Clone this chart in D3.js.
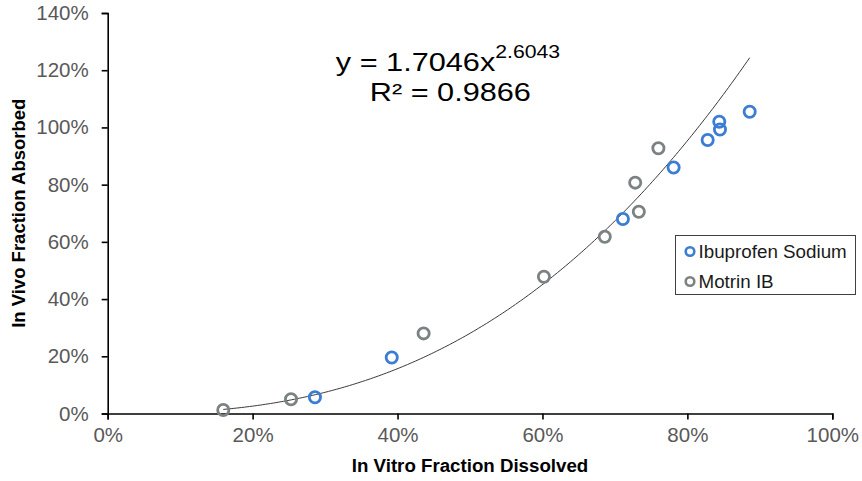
<!DOCTYPE html>
<html>
<head>
<meta charset="utf-8">
<script src="https://cdn.jsdelivr.net/npm/d3@7/dist/d3.min.js"></script>
<style>
  html, body { margin: 0; padding: 0; background: #fff; }
  svg { display: block; font-family: "Liberation Sans", Arial, sans-serif; }
</style>
</head>
<body>
<svg id="chart" width="862" height="481"></svg>
<script>
// In vitro dissolved (%) vs in vivo absorbed (%)
const ibuprofenX = [28.6, 39.2, 71.1, 78.1, 82.8, 84.5, 84.4, 88.6];
const ibuprofenY = [5.7, 19.6, 68.0, 86.0, 95.6, 99.3, 102.0, 105.5];
const motrinX = [15.95, 25.3, 43.6, 60.2, 68.6, 72.8, 73.3, 76.0];
const motrinY = [1.2, 5.0, 28.0, 47.8, 61.8, 80.7, 70.5, 92.7];

const seriesNames = ["Ibuprofen Sodium", "Motrin IB"];
const seriesColors = ["#3a7dd3", "#7b8283"];

// Power trendline fitted over both series: y = a * x^b
const fitA = 1.7046;
const fitB = 2.6043;
const fitR2 = 0.9866;

const xTicks = [0, 20, 40, 60, 80, 100];
const yTicks = [0, 20, 40, 60, 80, 100, 120, 140];

const svg = d3.select("#chart");
const plotLeft = 107.7, plotRight = 832.3, plotTop = 13, plotBottom = 413.5;

const x = d3.scaleLinear().domain([0, 100]).range([plotLeft, plotRight]);
const y = d3.scaleLinear().domain([0, 140]).range([plotBottom, plotTop]);

// Axes
const xAxis = d3.axisBottom(x).tickValues(xTicks).tickFormat(d => d + "%").tickSizeInner(6).tickSizeOuter(6).tickPadding(8);
const yAxis = d3.axisLeft(y).tickValues(yTicks).tickFormat(d => d + "%").tickSizeInner(6).tickSizeOuter(6).tickPadding(13);

const gx = svg.append("g").attr("transform", `translate(0,${plotBottom})`).call(xAxis);
const gy = svg.append("g").attr("transform", `translate(${plotLeft},0)`).call(yAxis);

[gx, gy].forEach(g => {
  g.selectAll("path.domain").attr("stroke", "#000").attr("stroke-width", 1.6);
  g.selectAll(".tick line").attr("stroke", "#000").attr("stroke-width", 1.6);
  g.selectAll(".tick text")
    .attr("fill", "#595959")
    .attr("font-size", 20.5)
    .attr("font-family", "'Liberation Sans', Arial, sans-serif");
});

// Axis titles
svg.append("text")
  .attr("x", (plotLeft + plotRight) / 2)
  .attr("y", 472)
  .attr("text-anchor", "middle")
  .attr("font-size", 18.7)
  .attr("font-weight", "bold")
  .attr("fill", "#000")
  .text("In Vitro Fraction Dissolved");

svg.append("text")
  .attr("transform", `translate(24.5,${(plotTop + plotBottom) / 2}) rotate(-90)`)
  .attr("text-anchor", "middle")
  .attr("font-size", 18.5)
  .attr("font-weight", "bold")
  .attr("fill", "#000")
  .text("In Vivo Fraction Absorbed");

// Trendline over the observed x range
const allX = ibuprofenX.concat(motrinX);
const xMin = d3.min(allX), xMax = d3.max(allX);
const curve = d3.range(0, 201).map(i => {
  const xv = xMin + (xMax - xMin) * i / 200;
  return [xv, fitA * Math.pow(xv / 100, fitB) * 100];
});
svg.append("path")
  .datum(curve)
  .attr("fill", "none")
  .attr("stroke", "#3a3a3a")
  .attr("stroke-width", 1)
  .attr("d", d3.line().x(d => x(d[0])).y(d => y(d[1])));

// Points
const series = [
  { xs: ibuprofenX, ys: ibuprofenY },
  { xs: motrinX, ys: motrinY }
];
series.forEach((s, i) => {
  svg.append("g").selectAll("circle")
    .data(s.xs.map((v, j) => [v, s.ys[j]]))
    .join("circle")
    .attr("cx", d => x(d[0]))
    .attr("cy", d => y(d[1]))
    .attr("r", 5.6)
    .attr("fill", "none")
    .attr("stroke", seriesColors[i])
    .attr("stroke-width", 2.8);
});

// Equation and R², set in a widened face
const eqGroup = svg.append("g").attr("transform", "translate(448,0) scale(1.18,1)");
const eq = eqGroup.append("text")
  .attr("x", 0)
  .attr("y", 71.2)
  .attr("text-anchor", "middle")
  .attr("font-size", 26)
  .attr("fill", "#000");
eq.append("tspan").text(`y = ${fitA}x`);
eq.append("tspan").attr("font-size", 18).attr("dy", -13).text(fitB);

eqGroup.append("text")
  .attr("x", 2)
  .attr("y", 100.6)
  .attr("text-anchor", "middle")
  .attr("font-size", 26)
  .attr("fill", "#000")
  .text(`R² = ${fitR2}`);

// Legend
const legend = svg.append("g");
legend.append("rect")
  .attr("x", 675.5).attr("y", 235.5)
  .attr("width", 180).attr("height", 59)
  .attr("fill", "#fff")
  .attr("stroke", "#404040")
  .attr("stroke-width", 1);
seriesNames.forEach((name, i) => {
  const cy = 251.5 + i * 30;
  legend.append("circle")
    .attr("cx", 690).attr("cy", cy).attr("r", 4.3)
    .attr("fill", "none")
    .attr("stroke", seriesColors[i])
    .attr("stroke-width", 2.6);
  legend.append("text")
    .attr("x", 698.5).attr("y", cy + 6.7)
    .attr("font-size", 18.8)
    .attr("fill", "#1a1a1a")
    .text(name);
});
</script>
</body>
</html>
